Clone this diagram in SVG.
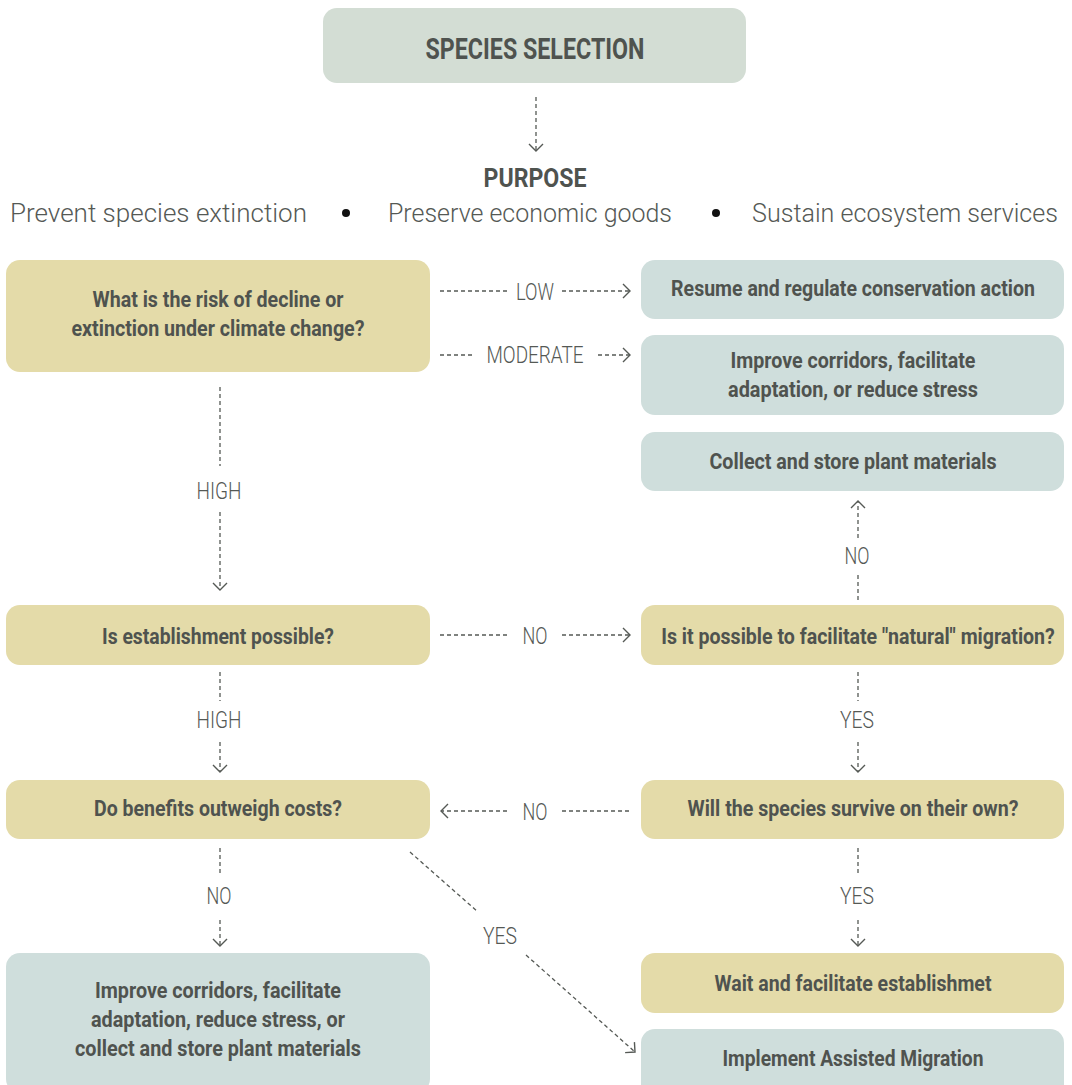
<svg xmlns="http://www.w3.org/2000/svg" width="1072" height="1085" viewBox="0 0 1072 1085">
<style>
.tan{fill:#e4dba9}
.blue{fill:#cfdedc}
.top{fill:#d3ddd4}
.t{font-family:Roboto,"Liberation Sans",sans-serif;font-weight:700;font-size:22px;fill:#4f534f;text-anchor:middle}
.lab{font-family:Roboto,"Liberation Sans",sans-serif;font-weight:300;font-size:24px;fill:#555955;text-anchor:middle}
.pur{font-family:Roboto,"Liberation Sans",sans-serif;font-weight:300;font-size:25px;fill:#555955}
.c{fill:none;stroke:#555955;stroke-width:1.3;stroke-dasharray:4 3}
</style>
<defs>
<marker id="ah" markerUnits="userSpaceOnUse" markerWidth="20" markerHeight="20" refX="10" refY="10" orient="auto" viewBox="0 0 20 20">
<path d="M3,3 L10,10 L3,17" fill="none" stroke="#555955" stroke-width="1.4"/>
</marker>
</defs>
<rect width="1072" height="1085" fill="#ffffff"/>

<g id="species-selection">
<rect class="top" x="323" y="8" width="423" height="75" rx="14"/>
<text class="t" x="535" y="59" style="font-size:29px" textLength="219" lengthAdjust="spacingAndGlyphs">SPECIES SELECTION</text>
</g>

<g id="purpose">
<text class="t" x="535" y="187" style="font-size:25px" textLength="103" lengthAdjust="spacingAndGlyphs">PURPOSE</text>
<text class="pur" x="10" y="222" textLength="297" lengthAdjust="spacingAndGlyphs">Prevent species extinction</text>
<circle cx="346" cy="213" r="4" fill="#111"/>
<text class="pur" x="388" y="222" textLength="284" lengthAdjust="spacingAndGlyphs">Preserve economic goods</text>
<circle cx="716" cy="213" r="4" fill="#111"/>
<text class="pur" x="752" y="222" textLength="306" lengthAdjust="spacingAndGlyphs">Sustain ecosystem services</text>
</g>

<g id="risk">
<rect class="tan" x="6" y="260" width="424" height="112" rx="14"/>
<text class="t" x="218" y="307" textLength="251" lengthAdjust="spacingAndGlyphs">What is the risk of decline or</text>
<text class="t" x="218" y="336" textLength="293" lengthAdjust="spacingAndGlyphs">extinction under climate change?</text>
</g>

<g id="resume">
<rect class="blue" x="641" y="260" width="423" height="59" rx="14"/>
<g transform="translate(853,296) scale(0.85,1)">
<text class="t" x="0" y="0" textLength="428" lengthAdjust="spacingAndGlyphs">Resume and regulate conservation action</text>
</g>
</g>

<g id="improve1">
<rect class="blue" x="641" y="335" width="423" height="80" rx="14"/>
<text class="t" x="853" y="368" textLength="245" lengthAdjust="spacingAndGlyphs">Improve corridors, facilitate</text>
<text class="t" x="853" y="397" textLength="250" lengthAdjust="spacingAndGlyphs">adaptation, or reduce stress</text>
</g>

<g id="collect">
<rect class="blue" x="641" y="432" width="423" height="59" rx="14"/>
<text class="t" x="853" y="469" textLength="287" lengthAdjust="spacingAndGlyphs">Collect and store plant materials</text>
</g>

<g id="establishment">
<rect class="tan" x="6" y="605" width="424" height="60" rx="14"/>
<text class="t" x="218" y="644" textLength="232" lengthAdjust="spacingAndGlyphs">Is establishment possible?</text>
</g>

<g id="natural">
<rect class="tan" x="641" y="605" width="423" height="60" rx="14"/>
<g transform="translate(858,644) scale(0.8,1)">
<text class="t" x="0" y="0" textLength="492" lengthAdjust="spacingAndGlyphs">Is it possible to facilitate "natural" migration?</text>
</g>
</g>

<g id="benefits">
<rect class="tan" x="6" y="780" width="424" height="59" rx="14"/>
<text class="t" x="218" y="816" textLength="248" lengthAdjust="spacingAndGlyphs">Do benefits outweigh costs?</text>
</g>

<g id="survive">
<rect class="tan" x="641" y="780" width="423" height="59" rx="14"/>
<text class="t" x="853" y="816" textLength="331" lengthAdjust="spacingAndGlyphs">Will the species survive on their own?</text>
</g>

<g id="improve2">
<rect class="blue" x="6" y="953" width="424" height="140" rx="14"/>
<text class="t" x="218" y="998" textLength="246" lengthAdjust="spacingAndGlyphs">Improve corridors, facilitate</text>
<text class="t" x="218" y="1027" textLength="254" lengthAdjust="spacingAndGlyphs">adaptation, reduce stress, or</text>
<text class="t" x="218" y="1056" textLength="286" lengthAdjust="spacingAndGlyphs">collect and store plant materials</text>
</g>

<g id="wait">
<rect class="tan" x="641" y="953" width="423" height="60" rx="14"/>
<text class="t" x="853" y="991" textLength="277" lengthAdjust="spacingAndGlyphs">Wait and facilitate establishmet</text>
</g>

<g id="assisted">
<rect class="blue" x="641" y="1029" width="423" height="70" rx="14"/>
<text class="t" x="853" y="1066" textLength="261" lengthAdjust="spacingAndGlyphs">Implement Assisted Migration</text>
</g>

<g id="connectors">
<path class="c" d="M536,97 V151" marker-end="url(#ah)"/>

<path class="c" d="M440,291 H507"/>
<path class="c" d="M562,291 H630" marker-end="url(#ah)"/>
<text class="lab" x="535" y="300" textLength="38" lengthAdjust="spacingAndGlyphs">LOW</text>

<path class="c" d="M440,355 H472"/>
<path class="c" d="M598,355 H630" marker-end="url(#ah)"/>
<text class="lab" x="535" y="363" textLength="97" lengthAdjust="spacingAndGlyphs">MODERATE</text>

<path class="c" d="M220,387 V466"/>
<path class="c" d="M220,512 V590" marker-end="url(#ah)"/>
<text class="lab" x="219" y="499" textLength="45" lengthAdjust="spacingAndGlyphs">HIGH</text>

<path class="c" d="M440,635 H507"/>
<path class="c" d="M562,635 H630" marker-end="url(#ah)"/>
<text class="lab" x="535" y="644" textLength="25" lengthAdjust="spacingAndGlyphs">NO</text>

<path class="c" d="M858,600 V575"/>
<path class="c" d="M858,538 V501" marker-end="url(#ah)"/>
<text class="lab" x="857" y="564" textLength="25" lengthAdjust="spacingAndGlyphs">NO</text>

<path class="c" d="M220,672 V701"/>
<path class="c" d="M220,742 V772" marker-end="url(#ah)"/>
<text class="lab" x="219" y="728" textLength="45" lengthAdjust="spacingAndGlyphs">HIGH</text>

<path class="c" d="M858,672 V701"/>
<path class="c" d="M858,742 V772" marker-end="url(#ah)"/>
<text class="lab" x="857" y="728" textLength="34" lengthAdjust="spacingAndGlyphs">YES</text>

<path class="c" d="M507,811 H441" marker-end="url(#ah)"/>
<path class="c" d="M562,811 H630"/>
<text class="lab" x="535" y="820" textLength="25" lengthAdjust="spacingAndGlyphs">NO</text>

<path class="c" d="M220,848 V873"/>
<path class="c" d="M220,920 V946" marker-end="url(#ah)"/>
<text class="lab" x="219" y="904" textLength="25" lengthAdjust="spacingAndGlyphs">NO</text>

<path class="c" d="M858,848 V873"/>
<path class="c" d="M858,920 V946" marker-end="url(#ah)"/>
<text class="lab" x="857" y="904" textLength="34" lengthAdjust="spacingAndGlyphs">YES</text>

<path class="c" d="M410,852 L478,912"/>
<path class="c" d="M526,955 L635,1052" marker-end="url(#ah)"/>
<text class="lab" x="500" y="944" textLength="34" lengthAdjust="spacingAndGlyphs">YES</text>
</g>
</svg>
